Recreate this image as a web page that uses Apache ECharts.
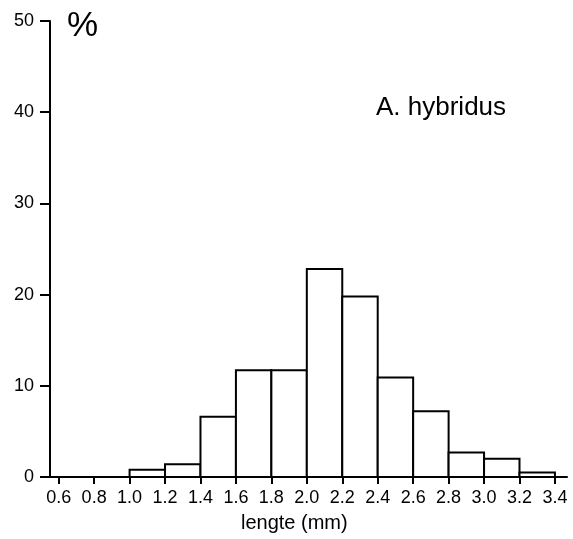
<!DOCTYPE html>
<html><head><meta charset="utf-8">
<script src="https://cdn.jsdelivr.net/npm/echarts@6/dist/echarts.min.js"></script>
<style>html,body{margin:0;padding:0;background:#fff}#c{width:573px;height:539px}</style>
</head><body><div id="c"></div>
<script>
const binStarts = [1.0, 1.2, 1.4, 1.6, 1.8, 2.0, 2.2, 2.4, 2.6, 2.8, 3.0, 3.2];
const binWidth = 0.2;
const percentages = [0.8, 1.4, 6.6, 11.7, 11.7, 22.8, 19.8, 10.9, 7.2, 2.7, 2.0, 0.5];
const xTickLabels = [0.6, 0.8, 1.0, 1.2, 1.4, 1.6, 1.8, 2.0, 2.2, 2.4, 2.6, 2.8, 3.0, 3.2, 3.4];
const yTicks = [0, 10, 20, 30, 40, 50];
const xAxisTitle = 'lengte (mm)';
const yAxisTitle = '%';
const speciesLabel = 'A. hybridus';

const font = '"Liberation Sans", Arial, sans-serif';
const data = binStarts.map((s, i) => [s, s + binWidth, percentages[i]]);
const chart = echarts.init(document.getElementById('c'), null, {renderer: 'canvas'});
chart.setOption({
  backgroundColor: '#fff',
  animation: false,
  grid: {left: 50, right: 6, top: 21, bottom: 62, containLabel: false},
  xAxis: {
    type: 'value', min: 0.551, max: 3.468,
    axisLine: {show: true, lineStyle: {color: '#000', width: 2}},
    axisTick: {show: true, customValues: xTickLabels, length: 7, lineStyle: {color: '#000', width: 2}},
    axisLabel: {customValues: xTickLabels, color: '#000', fontFamily: font, fontSize: 18, margin: 12,
      formatter: v => Number(v).toFixed(1)},
    splitLine: {show: false}
  },
  yAxis: {
    type: 'value', min: 0, max: 50, interval: 10,
    axisLine: {show: true, lineStyle: {color: '#000', width: 2}},
    axisTick: {show: true, customValues: yTicks, length: 10, lineStyle: {color: '#000', width: 2}},
    axisLabel: {customValues: yTicks, color: '#000', fontFamily: font, fontSize: 18, margin: 16},
    splitLine: {show: false}
  },
  graphic: [
    {type: 'text', left: 67, top: 9, style: {text: yAxisTitle, fontFamily: font, fontSize: 35, fill: '#000'}},
    {type: 'text', left: 376, top: 95, style: {text: speciesLabel, fontFamily: font, fontSize: 26, fill: '#000'}},
    {type: 'text', left: 241, top: 513, style: {text: xAxisTitle, fontFamily: font, fontSize: 20, fill: '#000'}}
  ],
  series: [{
    type: 'custom',
    data: data,
    encode: {x: [0, 1], y: 2},
    renderItem: function (params, api) {
      const p0 = api.coord([api.value(0), 0]);
      const p1 = api.coord([api.value(1), api.value(2)]);
      return {
        type: 'rect',
        shape: {x: p0[0], y: p1[1], width: p1[0] - p0[0], height: p0[1] - p1[1]},
        style: {fill: '#fff', stroke: '#000', lineWidth: 2}
      };
    }
  }]
});
</script></body></html>
